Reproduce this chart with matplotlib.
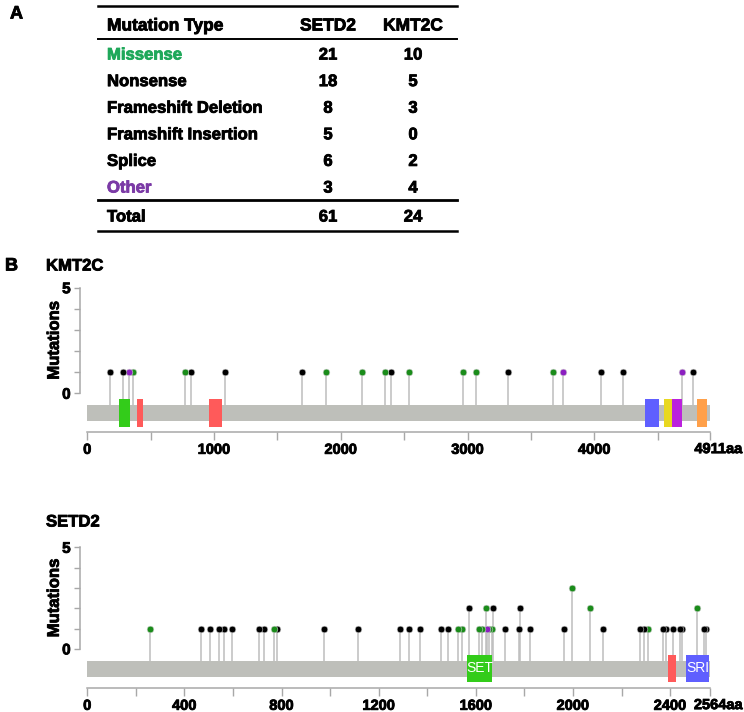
import matplotlib
matplotlib.use('Agg')
import matplotlib.pyplot as plt
from matplotlib.patches import Rectangle
import matplotlib.patheffects as pe

plt.rcParams['font.family'] = ['Liberation Sans', 'DejaVu Sans']
plt.rcParams['font.weight'] = 'bold'
plt.rcParams['axes.labelweight'] = 'bold'

# ---- panel A: mutation table ----
mut_types = ['Missense', 'Nonsense', 'Frameshift Deletion', 'Framshift Insertion', 'Splice', 'Other']
setd2_counts = [21, 18, 8, 5, 6, 3]
kmt2c_counts = [10, 5, 3, 0, 2, 4]
type_colors = {'Missense': '#1fa85a', 'Other': '#7b3aa6'}

# ---- panel B: lollipops ----
kmt2c_len = 4911
kmt2c_pos = [181, 284, 326, 360, 773, 818, 1088, 1690, 1882, 2164, 2348, 2397, 2535,
             2963, 3063, 3315, 3675, 3754, 4049, 4225, 4688, 4779]
kmt2c_cnt = [1] * len(kmt2c_pos)
kmt2c_kind = ['T', 'T', 'O', 'M', 'M', 'T', 'T', 'T', 'M', 'M', 'M', 'T', 'M',
              'M', 'M', 'T', 'M', 'O', 'T', 'T', 'O', 'T']
kmt2c_domains = [(252, 334, '#33cc1a', ''), (392, 442, '#ff5a5a', ''), (962, 1060, '#ff5a5a', ''),
                 (4400, 4511, '#5f5fff', ''), (4550, 4609, '#e8d820', ''), (4609, 4690, '#bb22dd', ''),
                 (4805, 4890, '#ffa04a', '')]

setd2_len = 2564
setd2_pos = [257, 467, 505, 544, 562, 596, 708, 728, 769, 780, 973, 1113, 1288, 1323, 1369,
             1455, 1485, 1528, 1542, 1614, 1625, 1645, 1653, 1666, 1720, 1779, 1824, 1964,
             2123, 2277, 2291, 2307, 2372, 2383, 2413, 2440, 2450, 2539, 2546,
             1572, 1640, 1670, 1783, 2071, 2512, 1994]
setd2_cnt = [1] * 39 + [2, 2, 2, 2, 2, 2, 3]
setd2_kind = ['M', 'T', 'T', 'T', 'T', 'T', 'T', 'T', 'M', 'T', 'T', 'T', 'T', 'T', 'T',
              'T', 'T', 'M', 'M', 'M', 'M', 'O', 'M', 'M', 'T', 'T', 'T', 'T',
              'T', 'T', 'T', 'M', 'T', 'T', 'T', 'T', 'T', 'T', 'T',
              'T', 'M', 'T', 'T', 'M', 'M', 'M']
setd2_domains = [(1562, 1668, '#33cc1a', 'SET'), (2391, 2423, '#ff5a5a', ''), (2467, 2559, '#5f5fff', 'SRI')]

kind_colors = {'M': '#1a8c1a', 'T': 'black', 'O': '#8b1fc0'}
W, H = 744, 712
B = 'bold'
# a thin stroke makes the bold text as heavy as in the original figure
heavy = [pe.Stroke(linewidth=0.6), pe.Normal()]

fig = plt.figure(figsize=(W / 100, H / 100), dpi=100)

# table drawn in a full-figure axes using pixel coords
tab = fig.add_axes([0, 0, 1, 1])
tab.set_xlim(0, W)
tab.set_ylim(H, 0)
tab.axis('off')


def txt(x, y, s, size=12, **kw):
    tab.text(x, y, s, fontsize=size, va='center', fontweight=B, path_effects=heavy, **kw)


txt(10, 14, 'A', 13)
x0, x1 = 98, 457
col_name, col_s, col_k = 107, 328, 413
tab.plot([x0, x1], [6, 6], color='black', lw=1.8)
txt(col_name, 26, 'Mutation Type', 12.5)
txt(col_s, 26, 'SETD2', 12.5, ha='center')
txt(col_k, 26, 'KMT2C', 12.5, ha='center')
tab.plot([x0, x1], [38.5, 38.5], color='black', lw=1.4)
for i, name in enumerate(mut_types):
    y = 55 + 26.6 * i
    txt(col_name, y, name, color=type_colors.get(name, 'black'))
    txt(col_s, y, str(setd2_counts[i]), ha='center')
    txt(col_k, y, str(kmt2c_counts[i]), ha='center')
tab.plot([x0, x1], [200, 200], color='black', lw=2)
txt(col_name, 217, 'Total')
txt(col_s, 217, str(sum(setd2_counts)), ha='center')
txt(col_k, 217, str(sum(kmt2c_counts)), ha='center')
tab.plot([x0, x1], [231, 231], color='black', lw=1.8)

txt(5, 266, 'B', 13)
txt(46, 266, 'KMT2C')
txt(46, 522, 'SETD2')

axis_gray = '#a8a8a8'


def draw_gene(rect, length, pos, cnt, kind, domains, major, minor, ymin, bar, dom):
    ax = fig.add_axes(rect)
    ax.set_xlim(0, length)
    ax.set_ylim(ymin, 5)
    ax.patch.set_alpha(0)
    ax.add_patch(Rectangle((0, bar[0]), length, bar[1] - bar[0], color='#bebfba', lw=0, zorder=1))
    for s, e, c, lab in domains:
        ax.add_patch(Rectangle((s, dom[0]), e - s, dom[1] - dom[0], color=c, lw=0, zorder=2))
        if lab:
            ax.text((s + e) / 2, (dom[0] + dom[1]) / 2, lab, color='white', fontsize=10,
                    fontweight='normal', ha='center', va='center', zorder=3)
    order = sorted(range(len(pos)), key=lambda i: -pos[i])
    for z, i in enumerate(order):
        ax.plot([pos[i], pos[i]], [bar[1], cnt[i]], color='#bdbdbd', lw=1.1, zorder=0.5)
        ax.plot(pos[i], cnt[i], 'o', ms=4.8, color=kind_colors[kind[i]],
                mec='#d0d0d0', mew=0.4, zorder=5 + z * 0.01)
    for side in ('top', 'right'):
        ax.spines[side].set_visible(False)
    ax.spines['left'].set_position(('outward', 5))
    ax.spines['left'].set_bounds(0, 5)
    ax.spines['bottom'].set_bounds(0, length)
    for side in ('left', 'bottom'):
        ax.spines[side].set_color(axis_gray)
        ax.spines[side].set_linewidth(1.1)
    ax.set_yticks(range(6))
    ax.set_yticklabels(['0', '', '', '', '', '5'], fontweight=B)
    ax.tick_params(axis='y', length=4, color=axis_gray, width=1, labelsize=11, pad=3)
    ax.set_xticks(major)
    ax.set_xticklabels([str(v) for v in major], fontweight=B)
    ax.set_xticks(minor + [length], minor=True)
    ax.tick_params(axis='x', which='both', length=6, color=axis_gray, width=1, labelsize=10.5, pad=2)
    for lab in ax.get_xticklabels() + ax.get_yticklabels():
        lab.set_path_effects(heavy)
    ax.annotate(f'{length}aa', xy=(length, 0), xycoords=('data', 'axes fraction'),
                xytext=(6, -7.5), textcoords='offset points', ha='center', va='top',
                fontsize=10.5, fontweight=B, path_effects=heavy)
    ax.set_ylabel('Mutations', fontsize=12, fontweight=B, path_effects=heavy)
    ax.yaxis.set_label_coords(-0.041, (0 - ymin + 2.5) / (5 - ymin))
    return ax


draw_gene([87.3 / W, 1 - 431.7 / H, 622.7 / W, 144 / H], kmt2c_len, kmt2c_pos, kmt2c_cnt,
          kmt2c_kind, kmt2c_domains, [0, 1000, 2000, 3000, 4000],
          [500, 1500, 2500, 3500, 4500], -1.82, (-1.33, -0.54), (-1.61, -0.27))
draw_gene([87.3 / W, 1 - 687.7 / H, 622.7 / W, 140.4 / H], setd2_len, setd2_pos, setd2_cnt,
          setd2_kind, setd2_domains, [0, 400, 800, 1200, 1600, 2000, 2400],
          [200, 600, 1000, 1400, 1800, 2200], -1.91, (-1.36, -0.58), (-1.64, -0.28))

fig.savefig('out.png', dpi=100)
